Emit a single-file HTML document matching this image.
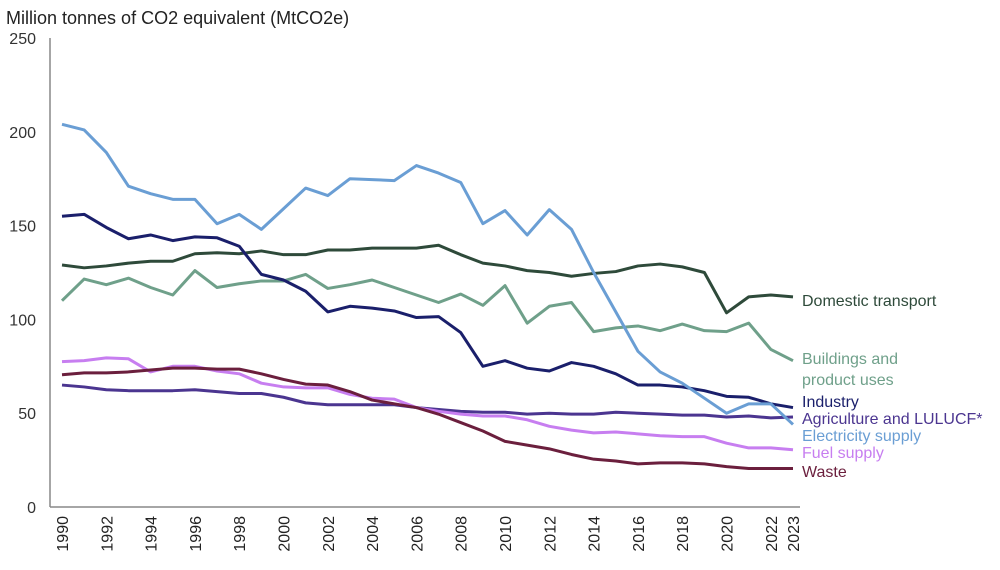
<!DOCTYPE html>
<html><head><meta charset="utf-8"><style>
body{margin:0;background:#fff;}
svg text{font-family:"Liberation Sans",sans-serif;}
</style></head><body>
<svg id="chart" width="1000" height="565" xmlns="http://www.w3.org/2000/svg">
<text x="6" y="24" font-size="18" fill="#222">Million tonnes of CO2 equivalent (MtCO2e)</text>
<g id="axes"></g><g id="lines"></g><g id="labels"></g>
</svg>
<script>
const years=[];for(let y=1990;y<=2023;y++)years.push(y);
const yTicks=[0,50,100,150,200,250];
const electricity=[204,201,189,171,167,164,164,151,156,148,159,170,166,175,174.5,174,182,178,173,151,158,145,158.5,148,125,104,83,72,66,58,50,55,55,44];
const transport=[129,127.5,128.5,130,131,131,135,135.5,135,136.5,134.5,134.5,137,137,138,138,138,139.5,134.5,130,128.5,126,125,123,124.5,125.5,128.5,129.5,128,125,103.5,112,113,112];
const industry=[155,156,149,143,145,142,144,143.5,139,124,121,115,104,107,106,104.5,101,101.5,93,75,78,74,72.5,77,75,71,65,65,64,62,59,58.5,55,53];
const buildings=[110,121.5,118.5,122,117,113,126,117,119,120.5,120.5,124,116.5,118.5,121,117,113,109,113.5,107.5,118,98,107,109,93.5,95.5,96.5,94,97.5,94,93.5,98,84,78];
const agriculture=[65,64,62.5,62,62,62,62.5,61.5,60.5,60.5,58.5,55.5,54.5,54.5,54.5,54.5,53,52,51,50.5,50.5,49.5,50,49.5,49.5,50.5,50,49.5,49,49,48,48.5,47.5,48];
const fuel=[77.5,78,79.5,79,72,75,75,72.5,71,66,64,63.5,63.5,60,58,57.5,53,51,49.5,48.5,48.5,46.5,43,41,39.5,40,39,38,37.5,37.5,34,31.5,31.5,30.5];
const waste=[70.5,71.5,71.5,72,73,74,74,73.5,73.5,71,68,65.5,65,61.5,57,55,53,49.5,45,40.5,35,33,31,28,25.5,24.5,23,23.5,23.5,23,21.5,20.5,20.5,20.5];
const seriesNames=["Domestic transport","Buildings and|product uses","Industry","Agriculture and LULUCF*","Electricity supply","Fuel supply","Waste"];
const NS="http://www.w3.org/2000/svg";
const X=y=>62+(y-1990)*(793-62)/33;
const Y=v=>507-v*(507-38)/250;
function mk(t,a,p){const e=document.createElementNS(NS,t);for(const k in a)e.setAttribute(k,a[k]);p.appendChild(e);return e;}
const axes=document.getElementById('axes');
let e=mk('line',{x1:50,y1:38,x2:50,y2:507,stroke:'#888','stroke-width':1.5},axes);


e=mk('line',{x1:50,y1:507,x2:800,y2:507,stroke:'#888','stroke-width':1.5},axes);


yTicks.forEach(v=>{const t=mk('text',{x:36,y:Y(v)+6,'font-size':16,'text-anchor':'end',fill:'#333'},axes);t.textContent=v;

});
years.forEach(y=>{if(y%2!==0&&y!==2023)return;const x=X(y)+6;const t=mk('text',{x:0,y:0,'font-size':16,'text-anchor':'end',fill:'#222',transform:`translate(${x},516) rotate(-90)`},axes);t.textContent=y;

});
const series=[[transport,'#2e4a3a',300],[buildings,'#6fa08a',358],[industry,'#1a1f6b',401],[agriculture,'#4b3590',418],[electricity,'#6a9ed4',435],[fuel,'#c77ef0',452],[waste,'#6b1f3d',471]];
const lines=document.getElementById('lines'),labels=document.getElementById('labels');
series.forEach(([d,c,ly],i)=>{
const p=mk('polyline',{points:d.map((v,j)=>X(years[j])+','+Y(v)).join(' '),fill:'none',stroke:c,'stroke-width':3,'stroke-linejoin':'round'},lines);


seriesNames[i].split('|').forEach((s,k)=>{const t=mk('text',{x:802,y:ly+6+k*21,'font-size':16,fill:c},labels);t.textContent=s;

});
});
</script>
</body></html>
